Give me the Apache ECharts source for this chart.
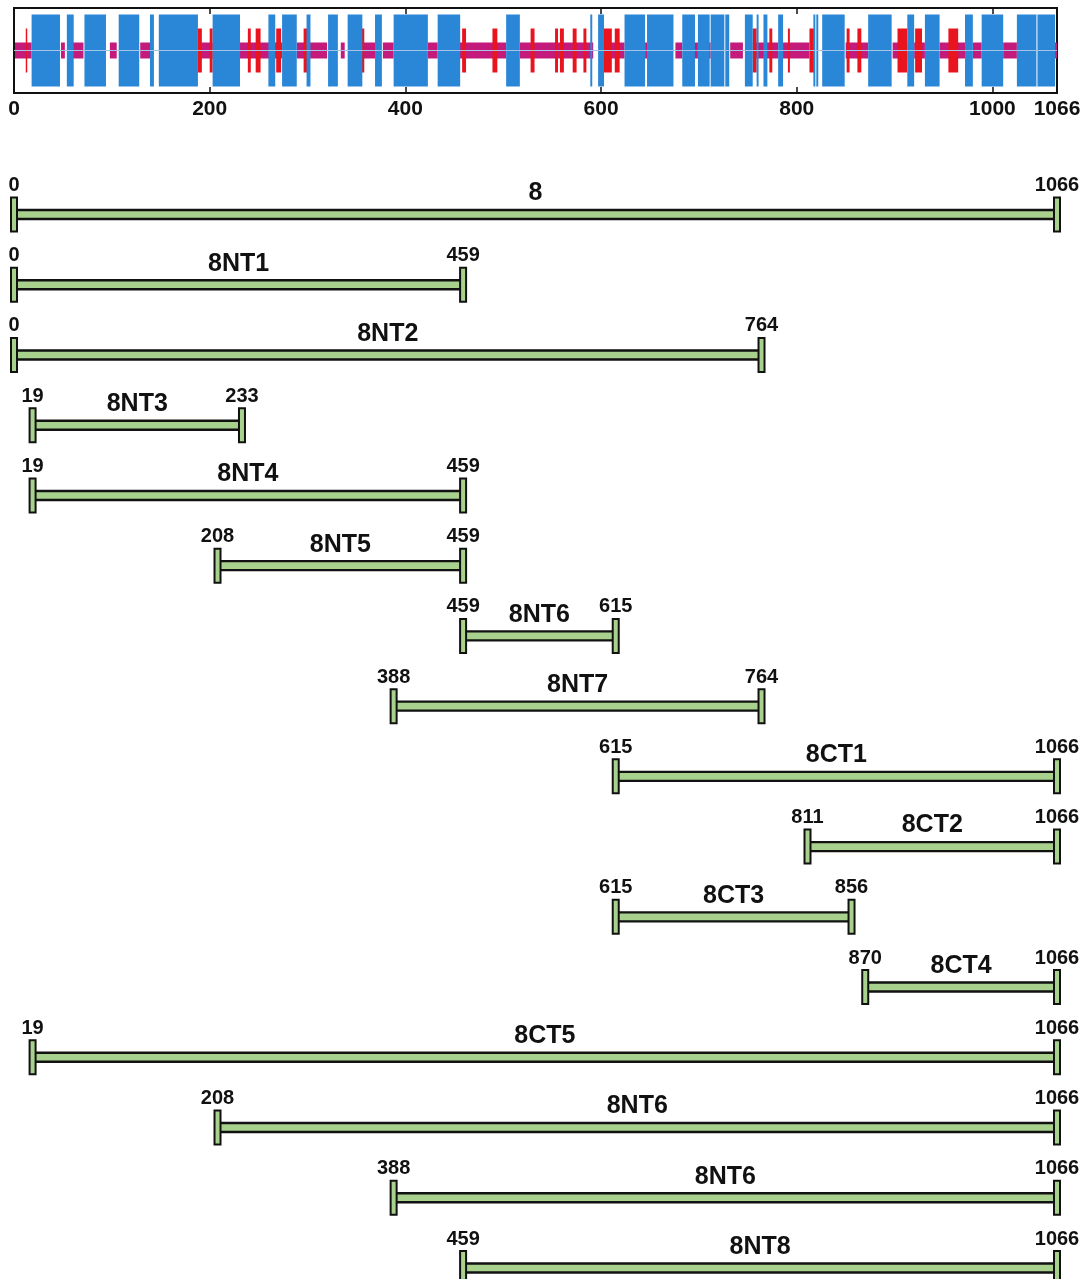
<!DOCTYPE html>
<html>
<head>
<meta charset="utf-8">
<title>Fragments</title>
<script src="https://cdn.jsdelivr.net/npm/echarts@6/dist/echarts.min.js"></script>
<style>
  html, body { margin: 0; padding: 0; background: #fff; }
  #main { width: 1087px; height: 1279px; }
</style>
</head>
<body>
<div id="main"></div>
<script>
// sequence length and axis
const seqLength = 1066;

// secondary structure, [start, end] in residues
const helices = [
  [18, 47], [54, 61], [72, 94], [107, 128], [139, 143], [148, 188], [203, 231],
  [260, 267], [274, 289], [299, 303], [321, 331], [341, 356], [369, 376],
  [388, 423], [433, 456], [503, 517], [589, 591], [597, 603], [624, 645],
  [647, 674], [683, 696], [699, 711], [712, 726], [727, 731], [747, 755],
  [759, 761], [766, 770], [781, 786], [817, 819], [820, 822], [826, 849],
  [873, 897], [913, 920], [931, 946], [972, 980], [989, 1011], [1025, 1045],
  [1046, 1064]
];
const strands = [
  [12, 13], [188, 192], [200, 203], [239, 242], [247, 252], [268, 273],
  [296, 300], [355, 358], [458, 462], [489, 494], [528, 532], [553, 556],
  [558, 562], [571, 575], [582, 585], [602, 611], [614, 619], [755, 759],
  [772, 775], [791, 793], [813, 818], [851, 854], [862, 866], [903, 913],
  [921, 928], [955, 965]
];
const coils = [
  [1, 18], [48, 52], [60, 71], [98, 105], [129, 142], [188, 203], [231, 274],
  [289, 320], [334, 338], [357, 369], [377, 388], [423, 433], [454, 503],
  [517, 592], [603, 624], [645, 647], [676, 683], [695, 699], [708, 712],
  [732, 745], [755, 781], [786, 813], [850, 873], [898, 913], [920, 931],
  [946, 972], [980, 989], [1011, 1025], [1064, 1066]
];

// fragments
const fragNames = ['8', '8NT1', '8NT2', '8NT3', '8NT4', '8NT5', '8NT6', '8NT7',
  '8CT1', '8CT2', '8CT3', '8CT4', '8CT5', '8NT6', '8NT6', '8NT8'];
const fragStart = [0, 0, 0, 19, 19, 208, 459, 388, 615, 811, 615, 870, 19, 208, 388, 459];
const fragEnd = [1066, 459, 764, 233, 459, 459, 615, 764, 1066, 1066, 856, 1066, 1066, 1066, 1066, 1066];

const FONT = "'Liberation Sans', Arial, sans-serif";
const GREEN = '#a9d18e';

const chart = echarts.init(document.getElementById('main'), null, { renderer: 'canvas' });

// draws a band of given pixel height centered on the track line
function bandRenderer(color, half) {
  return function (params, api) {
    const a = api.coord([api.value(0), 0]);
    const b = api.coord([api.value(1), 0]);
    return {
      type: 'rect',
      shape: { x: a[0], y: a[1] - half, width: Math.max(b[0] - a[0], 1.5), height: half * 2 },
      style: { fill: color }
    };
  };
}

function renderFragment(params, api) {
  const i = params.dataIndex;
  const s = api.coord([api.value(0), api.value(2)]);
  const e = api.coord([api.value(1), api.value(2)]);
  const y = s[1];
  const capStyle = { fill: GREEN, stroke: '#111', lineWidth: 2 };
  return {
    type: 'group',
    children: [
      {
        type: 'rect',
        shape: { x: s[0], y: y - 4.5, width: e[0] - s[0], height: 9 },
        style: { fill: GREEN, stroke: '#111', lineWidth: 2.4 }
      },
      { type: 'rect', shape: { x: s[0] - 3, y: y - 17, width: 6, height: 34 }, style: capStyle },
      { type: 'rect', shape: { x: e[0] - 3, y: y - 17, width: 6, height: 34 }, style: capStyle },
      {
        type: 'text',
        style: {
          text: fragNames[i], x: (s[0] + e[0]) / 2, y: y - 21,
          textAlign: 'center', textVerticalAlign: 'middle',
          font: 'bold 25px ' + FONT, fill: '#111'
        }
      },
      {
        type: 'text',
        style: {
          text: String(fragStart[i]), x: s[0], y: y - 29,
          textAlign: 'center', textVerticalAlign: 'middle',
          font: 'bold 20px ' + FONT, fill: '#111'
        }
      },
      {
        type: 'text',
        style: {
          text: String(fragEnd[i]), x: e[0], y: y - 29,
          textAlign: 'center', textVerticalAlign: 'middle',
          font: 'bold 20px ' + FONT, fill: '#111'
        }
      }
    ]
  };
}

const option = {
  backgroundColor: '#fff',
  animation: false,
  grid: [
    { left: 14, right: 30, top: 8, height: 85, show: true, borderColor: '#111', borderWidth: 2 },
    { left: 14, right: 30, top: 214.5, bottom: 11 }
  ],
  xAxis: [
    {
      gridIndex: 0, type: 'value', min: 0, max: seqLength, interval: 200, position: 'bottom', z: 10,
      axisLine: { show: false, onZero: false },
      axisTick: { show: true, inside: true, length: 6, lineStyle: { color: '#111', width: 1.5 } },
      axisLabel: {
        fontFamily: FONT, fontWeight: 'bold', fontSize: 21, color: '#111', margin: 6,
        formatter: v => String(v)
      },
      splitLine: { show: false }
    },
    {
      gridIndex: 0, type: 'value', min: 0, max: seqLength, interval: 200, position: 'top', z: 10,
      axisLine: { show: false, onZero: false },
      axisTick: { show: true, inside: true, length: 6, lineStyle: { color: '#111', width: 1.5 } },
      axisLabel: { show: false },
      splitLine: { show: false }
    },
    { gridIndex: 1, type: 'value', min: 0, max: seqLength, show: false }
  ],
  yAxis: [
    { gridIndex: 0, type: 'value', min: -1, max: 1, show: false },
    { gridIndex: 1, type: 'value', min: 0, max: fragNames.length - 1, inverse: true, show: false }
  ],
  series: [
    {
      type: 'custom', xAxisIndex: 0, yAxisIndex: 0,
      renderItem: bandRenderer('#c41a7c', 8),
      data: coils
    },
    {
      type: 'custom', xAxisIndex: 0, yAxisIndex: 0,
      renderItem: bandRenderer('#e8141e', 22),
      data: strands
    },
    {
      type: 'custom', xAxisIndex: 0, yAxisIndex: 0,
      renderItem: bandRenderer('#2a86d6', 36),
      data: helices
    },
    {
      type: 'line', xAxisIndex: 0, yAxisIndex: 0, symbol: 'none',
      lineStyle: { color: '#a6c2e4', width: 1.2 },
      data: [[0, 0], [seqLength, 0]]
    },
    {
      type: 'custom', xAxisIndex: 2, yAxisIndex: 1,
      renderItem: renderFragment,
      data: fragNames.map((n, i) => [fragStart[i], fragEnd[i], i])
    }
  ]
};

chart.setOption(option);
</script>
</body>
</html>
